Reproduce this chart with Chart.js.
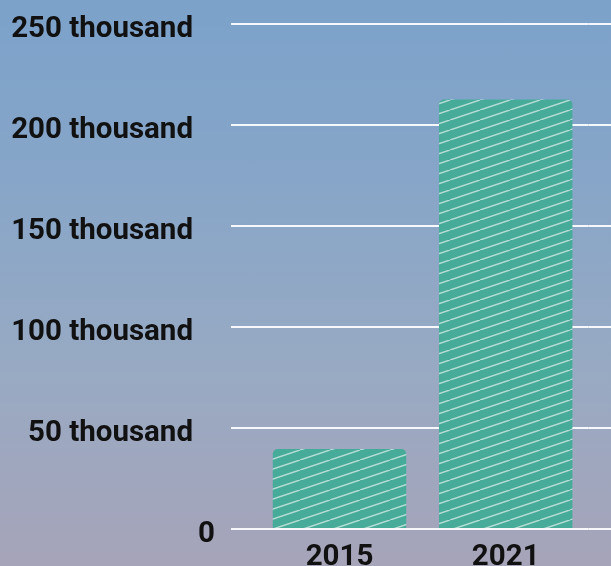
<!DOCTYPE html>
<html>
<head>
<meta charset="utf-8">
<script src="https://cdn.jsdelivr.net/npm/chart.js@4.4.1/dist/chart.umd.min.js"></script>
<style>
  html, body { margin: 0; padding: 0; }
  body {
    width: 611px; height: 566px; overflow: hidden;
    background: linear-gradient(180deg, #7ca2ca 0%, #86a5c8 30%, #98aac3 65%, #a6a4b9 100%);
  }
  canvas { display: block; }
</style>
</head>
<body>
<canvas id="c" width="611" height="566"></canvas>
<script>
const categories = ['2015', '2021'];
const values = [39600, 212600];
const tickValues = [0, 50000, 100000, 150000, 200000, 250000];
const tickLabels = ['0', '50 thousand', '100 thousand', '150 thousand', '200 thousand', '250 thousand'];

const barColor = '#47ab9a';
const gridColor = 'rgba(255,255,255,0.92)';

function hatch() {
  const t = document.createElement('canvas');
  t.width = 30; t.height = 10;
  const c = t.getContext('2d');
  c.fillStyle = barColor;
  c.fillRect(0, 0, 30, 10);
  c.strokeStyle = 'rgba(255,255,255,0.6)';
  c.lineWidth = 1.5;
  for (const dx of [-30, 0, 30]) {
    c.beginPath();
    c.moveTo(dx, 10);
    c.lineTo(dx + 30, 0);
    c.stroke();
  }
  return document.getElementById('c').getContext('2d').createPattern(t, 'repeat');
}

const font = { family: 'Roboto', weight: '700', size: 29.5, lineHeight: 1 };

new Chart(document.getElementById('c'), {
  type: 'bar',
  data: {
    labels: categories,
    datasets: [{
      data: values,
      backgroundColor: hatch(),
      borderRadius: 5,
      categoryPercentage: 1,
      barPercentage: 0.803
    }]
  },
  options: {
    responsive: false,
    animation: false,
    devicePixelRatio: 1,
    layout: { padding: { top: 24, left: 0, right: 0, bottom: 0 } },
    plugins: { legend: { display: false }, tooltip: { enabled: false } },
    scales: {
      x: {
        grid: { display: false, drawTicks: false },
        border: { display: false },
        ticks: { color: '#111', font: font, padding: 14 },
        afterFit: s => { s.height = 37; }
      },
      y: {
        position: 'left',
        min: 0, max: 250000,
        z: 1,
        afterBuildTicks: s => { s.ticks = tickValues.map(v => ({ value: v })); },
        ticks: {
          color: '#111',
          font: font,
          padding: 16,
          labelOffset: 6,
          callback: (v) => {
            const i = tickValues.indexOf(v);
            const l = i >= 0 ? tickLabels[i] : '';
            return v === 0 ? l : l + '   ';
          }
        },
        grid: { color: gridColor, lineWidth: 2, drawTicks: true, tickLength: 25.4 },
        border: { display: false },
        afterFit: s => { s.width = 256.4; s.paddingTop = 0; s.paddingBottom = 0; }
      },
      y2: {
        position: 'right',
        min: 0, max: 250000,
        afterBuildTicks: s => { s.ticks = tickValues.map(v => ({ value: v })); },
        ticks: { display: false },
        grid: { color: gridColor, lineWidth: 2, drawOnChartArea: false, drawTicks: true, tickLength: 22.2 },
        border: { display: false },
        afterFit: s => { s.width = 22.2; s.paddingTop = 0; s.paddingBottom = 0; }
      }
    }
  }
});
</script>
</body>
</html>
